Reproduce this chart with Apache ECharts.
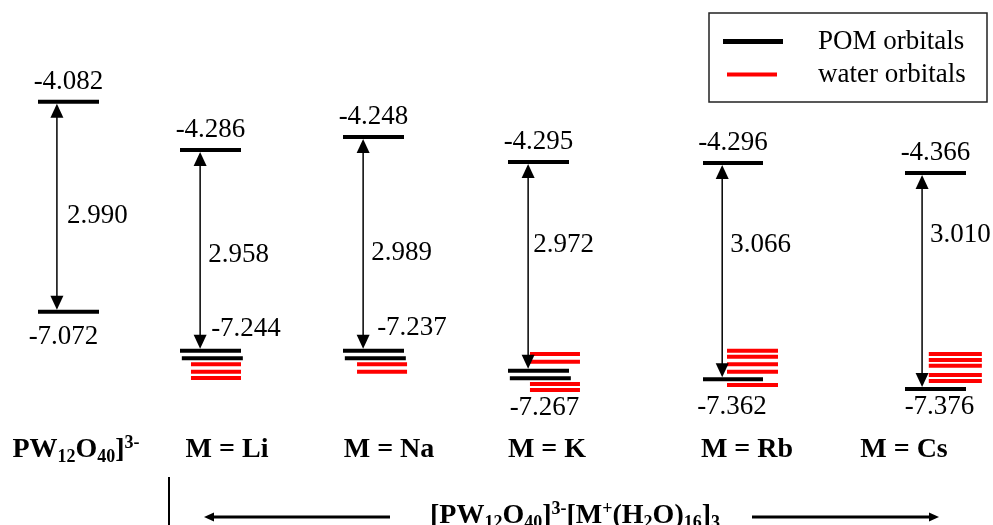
<!DOCTYPE html>
<html>
<head>
<meta charset="utf-8">
<script src="https://cdn.jsdelivr.net/npm/echarts@6/dist/echarts.min.js"></script>
<style>
  html, body { margin: 0; padding: 0; background: #fff; }
  #main { width: 993px; height: 525px; }
</style>
</head>
<body>
<div id="main"></div>
<script>
// column captions (rich text markup for sub/superscripts)
const columns = [
  '{b|PW}{s|12}{b|O}{s|40}{b|]}{p|3-}',
  '{b|M = Li}', '{b|M = Na}', '{b|M = K}', '{b|M = Rb}', '{b|M = Cs}'
];
// orbital energies (eV)
const lumo = [-4.082, -4.286, -4.248, -4.295, -4.296, -4.366];
const homo = [-7.072, -7.244, -7.237, -7.267, -7.362, -7.376];
const gap = [2.990, 2.958, 2.989, 2.972, 3.066, 3.010];
// second occupied POM level (drawn, not labelled)
const pomExtra = [[], [-7.355], [-7.343], [-7.375], [], []];
// water orbitals near the HOMO (estimated)
const water = [
  [],
  [-7.445, -7.555, -7.645],
  [-7.427, -7.531],
  [-7.029, -7.139, -7.457, -7.542],
  [-6.957, -7.042, -7.149, -7.254, -7.443],
  [-6.888, -6.972, -7.051, -7.181, -7.265]
];

const FONT = '"Liberation Serif", "Times New Roman", serif';

// layout of each column: grid box, axis range (schematic, shifted per column), label offsets
const layout = [
  { left: 38, width: 61, yTop: -2.634, yBottom: -10.109, arrowX: 0.31, redX: 0, redW: 0.82, gapDx: 10, gapDy: 9, homoPos: 'below', homoDx: -5, homoDy: 25, nameX: 76 },
  { left: 180, width: 61, yTop: -2.075, yBottom: -9.813, arrowX: 0.33, redX: 0.18, redW: 0.82, gapDx: 8, gapDy: 5, homoPos: 'right', homoDx: 11, homoDy: -22, nameX: 227 },
  { left: 343, width: 61, yTop: -2.332, yBottom: -9.675, arrowX: 0.33, redX: 0.23, redW: 0.82, gapDx: 8, gapDy: 9, homoPos: 'right', homoDx: 14, homoDy: -23, nameX: 389 },
  { left: 508, width: 61, yTop: -1.988, yBottom: -9.464, arrowX: 0.33, redX: 0.36, redW: 0.82, gapDx: 5, gapDy: -21, homoPos: 'below', homoDx: 6, homoDy: 37, nameX: 547 },
  { left: 703, width: 60, yTop: -1.986, yBottom: -9.428, arrowX: 0.32, redX: 0.40, redW: 0.85, gapDx: 8, gapDy: -26, homoPos: 'below', homoDx: -1, homoDy: 28, nameX: 747 },
  { left: 905, width: 61, yTop: -1.955, yBottom: -9.271, arrowX: 0.28, redX: 0.39, redW: 0.87, gapDx: 8, gapDy: -46, homoPos: 'below', homoDx: 4, homoDy: 18, nameX: 904 }
];

const richBold = {
  b: { fontSize: 28, fontWeight: 'bold', fontFamily: FONT, color: '#000', lineHeight: 32 },
  s: { fontSize: 18, fontWeight: 'bold', fontFamily: FONT, color: '#000', lineHeight: 19, verticalAlign: 'bottom' },
  p: { fontSize: 18, fontWeight: 'bold', fontFamily: FONT, color: '#000', lineHeight: 17, verticalAlign: 'top' }
};

function text(t, x, y, align) {
  return {
    type: 'text',
    style: { text: t, x: x, y: y, align: align, verticalAlign: 'middle', fontSize: 27, fontFamily: FONT, fill: '#000' }
  };
}

function levelItem(i, kind) {
  return function (params, api) {
    const l = layout[i];
    const e = api.value(0);
    let x0 = 0, x1 = 1;
    if (kind === 'water') {
      x0 = l.redX; x1 = l.redX + l.redW;
    } else if (params.dataIndex >= 2) {
      x0 = 0.03; x1 = 1.03;
    }
    const p0 = api.coord([x0, e]);
    const p1 = api.coord([x1, e]);
    return {
      type: 'line',
      shape: { x1: p0[0], y1: p0[1], x2: p1[0], y2: p1[1] },
      style: { stroke: api.visual('color'), lineWidth: 4 }
    };
  };
}

function gapItem(i) {
  return function (params, api) {
    const l = layout[i];
    const top = api.coord([l.arrowX, api.value(0)]);
    const bot = api.coord([l.arrowX, api.value(1)]);
    const midL = api.coord([0.5, api.value(0)]);
    const midH = api.coord([0.5, api.value(1)]);
    const x = top[0], y0 = top[1] + 2, y1 = bot[1] - 2, hw = 6.5, hh = 14;
    const homoLabel = l.homoPos === 'right'
      ? text(api.value(1).toFixed(3), x + l.homoDx, bot[1] + l.homoDy, 'left')
      : text(api.value(1).toFixed(3), midH[0] + l.homoDx, midH[1] + l.homoDy, 'center');
    return {
      type: 'group',
      children: [
        { type: 'line', shape: { x1: x, y1: y0 + hh - 1, x2: x, y2: y1 - hh + 1 }, style: { stroke: '#000', lineWidth: 1.5 } },
        { type: 'polygon', shape: { points: [[x, y0], [x - hw, y0 + hh], [x + hw, y0 + hh]] }, style: { fill: '#000' } },
        { type: 'polygon', shape: { points: [[x, y1], [x - hw, y1 - hh], [x + hw, y1 - hh]] }, style: { fill: '#000' } },
        text(api.value(0).toFixed(3), midL[0], midL[1] - 20, 'center'),
        text(api.value(2).toFixed(3), x + l.gapDx, (top[1] + bot[1]) / 2 + l.gapDy, 'left'),
        homoLabel
      ]
    };
  };
}

const grids = [], xAxes = [], yAxes = [], series = [];
layout.forEach((l, i) => {
  grids.push({ left: l.left, width: l.width, top: 0, height: 525 });
  xAxes.push({ type: 'value', gridIndex: i, min: 0, max: 1, show: false });
  yAxes.push({ type: 'value', gridIndex: i, min: l.yBottom, max: l.yTop, show: false });
  series.push({
    name: 'POM orbitals', type: 'custom', xAxisIndex: i, yAxisIndex: i,
    itemStyle: { color: '#000' }, encode: { y: 0 },
    data: [lumo[i], homo[i]].concat(pomExtra[i]).map((e) => [e]),
    renderItem: levelItem(i, 'pom')
  });
  series.push({
    name: 'water orbitals', type: 'custom', xAxisIndex: i, yAxisIndex: i,
    itemStyle: { color: '#ff0000' }, encode: { y: 0 },
    data: water[i].map((e) => [e]),
    renderItem: levelItem(i, 'water')
  });
  series.push({
    name: 'gap', type: 'custom', xAxisIndex: i, yAxisIndex: i,
    itemStyle: { color: '#000' }, encode: { y: [0, 1] },
    data: [[lumo[i], homo[i], gap[i]]],
    renderItem: gapItem(i)
  });
});

const graphic = columns.map((c, i) => ({
  type: 'text', x: layout[i].nameX, y: 450,
  style: { text: c, align: 'center', verticalAlign: 'middle', rich: richBold }
}));
graphic.push(
  // legend frame
  { type: 'rect', shape: { x: 709, y: 13, width: 278, height: 89 }, style: { fill: 'none', stroke: '#222', lineWidth: 1.5 } },
  // bottom annotation
  { type: 'line', shape: { x1: 169, y1: 477, x2: 169, y2: 525 }, style: { stroke: '#000', lineWidth: 2 } },
  { type: 'line', shape: { x1: 390, y1: 517, x2: 212, y2: 517 }, style: { stroke: '#000', lineWidth: 3 } },
  { type: 'polygon', shape: { points: [[204, 517], [214, 512.5], [214, 521.5]] }, style: { fill: '#000' } },
  { type: 'line', shape: { x1: 752, y1: 517, x2: 930, y2: 517 }, style: { stroke: '#000', lineWidth: 3 } },
  { type: 'polygon', shape: { points: [[939, 517], [929, 512.5], [929, 521.5]] }, style: { fill: '#000' } },
  {
    type: 'text', x: 575, y: 516,
    style: {
      text: '{b|[PW}{s|12}{b|O}{s|40}{b|]}{p|3-}{b|[M}{p|+}{b|(H}{s|2}{b|O)}{s|16}{b|]}{s|3}',
      align: 'center', verticalAlign: 'middle', rich: richBold
    }
  }
);

const legendText = { fontSize: 27, fontFamily: FONT, color: '#000' };

const myChart = echarts.init(document.getElementById('main'));
myChart.setOption({
  animation: false,
  backgroundColor: '#fff',
  grid: grids,
  xAxis: xAxes,
  yAxis: yAxes,
  legend: [
    {
      data: ['POM orbitals'], left: 723, top: 28, padding: 0, icon: 'rect',
      itemWidth: 60, itemHeight: 5, selectedMode: false,
      textStyle: Object.assign({ padding: [0, 0, 0, 30] }, legendText)
    },
    {
      data: ['water orbitals'], left: 727, top: 61, padding: 0, icon: 'rect',
      itemWidth: 50, itemHeight: 4, selectedMode: false,
      textStyle: Object.assign({ padding: [0, 0, 0, 36] }, legendText)
    }
  ],
  graphic: graphic,
  series: series
});
</script>
</body>
</html>
